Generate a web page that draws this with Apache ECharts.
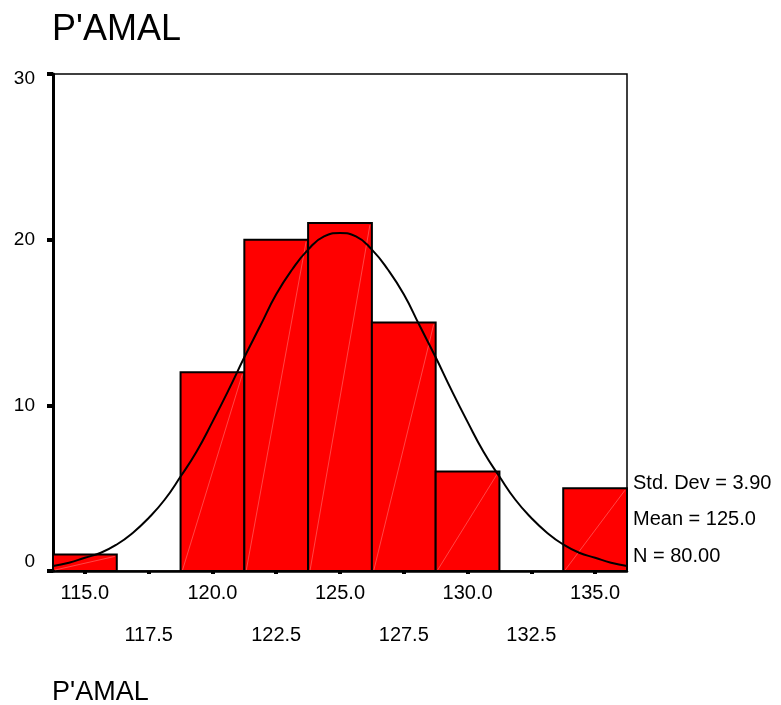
<!DOCTYPE html>
<html lang="en">
<head>
    <meta charset="UTF-8">
    <title>P'AMAL</title>
    <script src="https://cdn.jsdelivr.net/npm/echarts@6/dist/echarts.min.js"></script>
    <style>
        html, body { margin: 0; padding: 0; background: #fff; }
        #chart { width: 781px; height: 705px; }
    </style>
</head>
<body>
<div id="chart"></div>
<script type="text/javascript">
    // histogram bins (centre of each bin) and counts
    var binCenters = [115, 117.5, 120, 122.5, 125, 127.5, 130, 132.5, 135];
    var counts = [1, 0, 12, 20, 21, 15, 6, 0, 5];
    var binWidth = 2.5;

    // normal curve
    var curveX = [113.75, 114.375, 115, 115.625, 116.25, 116.875, 117.5, 118.125, 118.75, 119.375,
                  120, 120.625, 121.25, 121.875, 122.5, 123.125, 123.75, 124.375, 125,
                  125.625, 126.25, 126.875, 127.5, 128.125, 128.75, 129.375, 130, 130.625,
                  131.25, 131.875, 132.5, 133.125, 133.75, 134.375, 135, 135.625, 136.25];
    var curveY = [0.3, 0.5, 0.8, 1.1, 1.6, 2.3, 3.2, 4.3, 5.7, 7.2,
                  9.0, 10.9, 12.9, 14.8, 16.7, 18.2, 19.4, 20.2, 20.4,
                  20.2, 19.4, 18.2, 16.7, 14.8, 12.9, 10.9, 9.0, 7.2,
                  5.7, 4.3, 3.2, 2.3, 1.6, 1.1, 0.8, 0.5, 0.3];

    var xTicks = [115, 117.5, 120, 122.5, 125, 127.5, 130, 132.5, 135];
    var yTicks = [0, 10, 20, 30];
    var stats = ['Std. Dev = 3.90', 'Mean = 125.0', 'N = 80.00'];
    var title = "P'AMAL";

    var font = 'Arial, "Liberation Sans", sans-serif';

    var barData = [];
    for (var i = 0; i < binCenters.length; i++) {
        barData.push([binCenters[i], counts[i]]);
    }
    var lineData = [];
    for (var j = 0; j < curveX.length; j++) {
        lineData.push([curveX[j], curveY[j]]);
    }

    var statTexts = stats.map(function (s, k) {
        return {
            type: 'text', left: 633, top: 473 + k * 36.5,
            style: { text: s, fontSize: 20, fontFamily: font, fill: '#000' }
        };
    });

    var myChart = echarts.init(document.getElementById('chart'));
    var option = {
        backgroundColor: '#fff',
        animation: false,
        grid: {
            left: 53, right: 154, top: 74, bottom: 134,
            show: true, borderColor: '#000', borderWidth: 1.5,
            containLabel: false
        },
        graphic: [
            {
                type: 'text', left: 52, top: 12,
                style: { text: title, fontSize: 36, fontFamily: font, fill: '#000' }
            },
            {
                type: 'text', left: 52, top: 679,
                style: { text: title, fontSize: 27, fontFamily: font, fill: '#000' }
            }
        ].concat(statTexts),
        xAxis: {
            type: 'value',
            min: binCenters[0] - binWidth / 2,
            max: binCenters[binCenters.length - 1] + binWidth / 2,
            splitLine: { show: false },
            axisLine: { show: true, onZero: false, lineStyle: { color: '#000', width: 2.5 } },
            axisTick: {
                show: true, customValues: xTicks, length: 3,
                lineStyle: { color: '#000', width: 4 }
            },
            axisLabel: {
                customValues: xTicks,
                margin: 12,
                fontSize: 20, fontFamily: font, color: '#000', lineHeight: 21,
                formatter: function (v) {
                    var s = v.toFixed(1);
                    return (v % 5 === 0) ? s : '\n\n' + s;
                }
            }
        },
        yAxis: {
            type: 'value',
            min: 0, max: 30, interval: 10,
            splitLine: { show: false },
            axisLine: { show: true, lineStyle: { color: '#000', width: 3 } },
            axisTick: { show: true, length: 6, lineStyle: { color: '#000', width: 4 } },
            axisLabel: {
                margin: 18,
                fontSize: 19, fontFamily: font, color: '#000',
                formatter: function (v) {
                    if (v === yTicks[yTicks.length - 1]) return '{top|' + v + '}';
                    if (v === yTicks[0]) return '{bot|' + v + '}';
                    return '' + v;
                },
                rich: {
                    top: { fontSize: 19, fontFamily: font, color: '#000', padding: [9, 0, 0, 0] },
                    bot: { fontSize: 19, fontFamily: font, color: '#000', padding: [0, 0, 19, 0] }
                }
            }
        },
        series: [
            {
                type: 'custom',
                data: barData,
                renderItem: function (params, api) {
                    var c = api.value(0);
                    var n = api.value(1);
                    if (n <= 0) return null;
                    var p0 = api.coord([c - binWidth / 2, 0]);
                    var p1 = api.coord([c + binWidth / 2, n]);
                    return {
                        type: 'group',
                        children: [
                            {
                                type: 'rect',
                                shape: { x: p0[0], y: p1[1], width: p1[0] - p0[0], height: p0[1] - p1[1] },
                                style: { fill: '#ff0000', stroke: '#000', lineWidth: 2 }
                            },
                            {
                                type: 'line',
                                shape: { x1: p0[0] + 2, y1: p0[1] - 1, x2: p1[0] - 2, y2: p1[1] + 2 },
                                style: { stroke: 'rgba(255,200,200,0.35)', lineWidth: 1 }
                            }
                        ]
                    };
                },
                z: 2
            },
            {
                type: 'line',
                data: lineData,
                smooth: true,
                showSymbol: false,
                lineStyle: { color: '#000', width: 2 },
                z: 3
            }
        ]
    };
    myChart.setOption(option);
</script>
</body>
</html>
